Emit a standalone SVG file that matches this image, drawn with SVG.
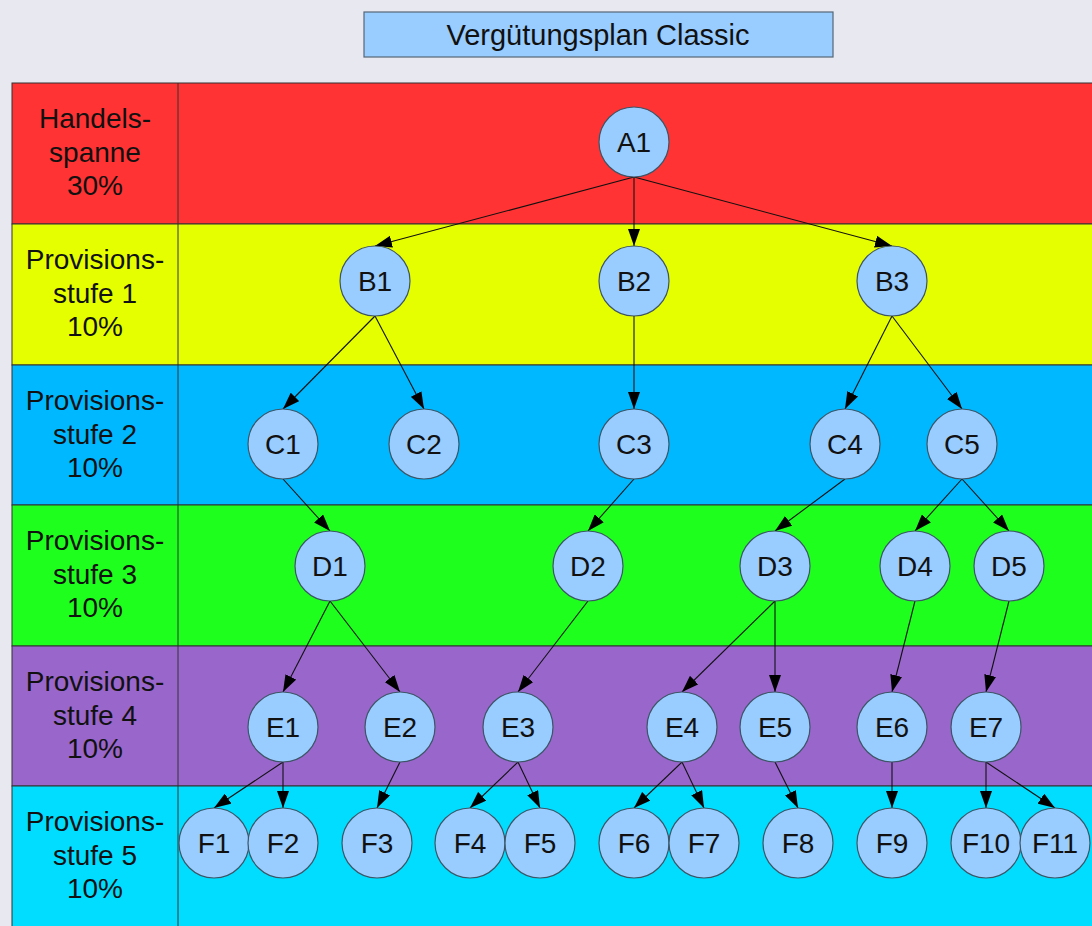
<svg xmlns="http://www.w3.org/2000/svg" width="1092" height="926" viewBox="0 0 1092 926">
<style>
.band{stroke:#333;stroke-width:1}
.lbl{font-family:"Liberation Sans",Arial,sans-serif;font-size:28px;fill:#111;text-anchor:middle}
.node circle{fill:#99ccff;stroke:#3d5566;stroke-width:1.2}
.node text{font-family:"Liberation Sans",Arial,sans-serif;font-size:28px;fill:#111;text-anchor:middle}
#connectors line{stroke:#111;stroke-width:1.1;marker-end:url(#arr)}
</style>
<defs>
<marker id="arr" viewBox="0 0 17 12" refX="17" refY="6" markerWidth="17" markerHeight="12" markerUnits="userSpaceOnUse" orient="auto">
<path d="M0,0 L17,6 L0,12 z" fill="#000"/>
</marker>
</defs>
<rect x="0" y="0" width="1092" height="926" fill="#e8e8f0"/>
<g id="title">
<rect x="364" y="12" width="469" height="45" fill="#99ccff" stroke="#556677" stroke-width="1.2"/>
<text x="598" y="45" font-family="'Liberation Sans',Arial,sans-serif" font-size="29" text-anchor="middle" fill="#111">Vergütungsplan Classic</text>
</g>
<g id="bands">
<rect class="band" x="12" y="83" width="1090" height="141" fill="#ff3333"/>
<rect class="band" x="12" y="224" width="1090" height="141" fill="#e6ff00"/>
<rect class="band" x="12" y="365" width="1090" height="140" fill="#00b8ff"/>
<rect class="band" x="12" y="505" width="1090" height="141" fill="#1eff1e"/>
<rect class="band" x="12" y="646" width="1090" height="140" fill="#9966cc"/>
<rect class="band" x="12" y="786" width="1090" height="150" fill="#00ddff"/>
<line x1="178" y1="83" x2="178" y2="926" stroke="#333" stroke-width="1"/>
<text class="lbl"><tspan x="95" y="128">Handels-</tspan><tspan x="95" y="162">spanne</tspan><tspan x="95" y="195">30%</tspan></text>
<text class="lbl"><tspan x="95" y="269">Provisions-</tspan><tspan x="95" y="303">stufe 1</tspan><tspan x="95" y="336">10%</tspan></text>
<text class="lbl"><tspan x="95" y="410">Provisions-</tspan><tspan x="95" y="444">stufe 2</tspan><tspan x="95" y="477">10%</tspan></text>
<text class="lbl"><tspan x="95" y="550">Provisions-</tspan><tspan x="95" y="584">stufe 3</tspan><tspan x="95" y="617">10%</tspan></text>
<text class="lbl"><tspan x="95" y="691">Provisions-</tspan><tspan x="95" y="725">stufe 4</tspan><tspan x="95" y="758">10%</tspan></text>
<text class="lbl"><tspan x="95" y="831">Provisions-</tspan><tspan x="95" y="865">stufe 5</tspan><tspan x="95" y="898">10%</tspan></text>
</g>
<g id="connectors">
<line x1="634" y1="177" x2="375" y2="246"/>
<line x1="634" y1="177" x2="634" y2="246"/>
<line x1="634" y1="177" x2="892" y2="246"/>
<line x1="375" y1="316" x2="283" y2="409"/>
<line x1="375" y1="316" x2="424" y2="409"/>
<line x1="634" y1="316" x2="634" y2="409"/>
<line x1="892" y1="316" x2="845" y2="409"/>
<line x1="892" y1="316" x2="962" y2="409"/>
<line x1="283" y1="479" x2="330" y2="531"/>
<line x1="634" y1="479" x2="588" y2="531"/>
<line x1="845" y1="479" x2="775" y2="531"/>
<line x1="962" y1="479" x2="915" y2="531"/>
<line x1="962" y1="479" x2="1009" y2="531"/>
<line x1="330" y1="601" x2="283" y2="692"/>
<line x1="330" y1="601" x2="400" y2="692"/>
<line x1="588" y1="601" x2="518" y2="692"/>
<line x1="775" y1="601" x2="682" y2="692"/>
<line x1="775" y1="601" x2="775" y2="692"/>
<line x1="915" y1="601" x2="892" y2="692"/>
<line x1="1009" y1="601" x2="986" y2="692"/>
<line x1="283" y1="762" x2="214" y2="808"/>
<line x1="283" y1="762" x2="283" y2="808"/>
<line x1="400" y1="762" x2="377" y2="808"/>
<line x1="518" y1="762" x2="470" y2="808"/>
<line x1="518" y1="762" x2="540" y2="808"/>
<line x1="682" y1="762" x2="634" y2="808"/>
<line x1="682" y1="762" x2="704" y2="808"/>
<line x1="775" y1="762" x2="798" y2="808"/>
<line x1="892" y1="762" x2="892" y2="808"/>
<line x1="986" y1="762" x2="986" y2="808"/>
<line x1="986" y1="762" x2="1055" y2="808"/>
</g>
<g id="A1" class="node"><circle cx="634" cy="142" r="35"/><text x="634" y="152">A1</text></g>
<g id="B1" class="node"><circle cx="375" cy="281" r="35"/><text x="375" y="291">B1</text></g>
<g id="B2" class="node"><circle cx="634" cy="281" r="35"/><text x="634" y="291">B2</text></g>
<g id="B3" class="node"><circle cx="892" cy="281" r="35"/><text x="892" y="291">B3</text></g>
<g id="C1" class="node"><circle cx="283" cy="444" r="35"/><text x="283" y="454">C1</text></g>
<g id="C2" class="node"><circle cx="424" cy="444" r="35"/><text x="424" y="454">C2</text></g>
<g id="C3" class="node"><circle cx="634" cy="444" r="35"/><text x="634" y="454">C3</text></g>
<g id="C4" class="node"><circle cx="845" cy="444" r="35"/><text x="845" y="454">C4</text></g>
<g id="C5" class="node"><circle cx="962" cy="444" r="35"/><text x="962" y="454">C5</text></g>
<g id="D1" class="node"><circle cx="330" cy="566" r="35"/><text x="330" y="576">D1</text></g>
<g id="D2" class="node"><circle cx="588" cy="566" r="35"/><text x="588" y="576">D2</text></g>
<g id="D3" class="node"><circle cx="775" cy="566" r="35"/><text x="775" y="576">D3</text></g>
<g id="D4" class="node"><circle cx="915" cy="566" r="35"/><text x="915" y="576">D4</text></g>
<g id="D5" class="node"><circle cx="1009" cy="566" r="35"/><text x="1009" y="576">D5</text></g>
<g id="E1" class="node"><circle cx="283" cy="727" r="35"/><text x="283" y="737">E1</text></g>
<g id="E2" class="node"><circle cx="400" cy="727" r="35"/><text x="400" y="737">E2</text></g>
<g id="E3" class="node"><circle cx="518" cy="727" r="35"/><text x="518" y="737">E3</text></g>
<g id="E4" class="node"><circle cx="682" cy="727" r="35"/><text x="682" y="737">E4</text></g>
<g id="E5" class="node"><circle cx="775" cy="727" r="35"/><text x="775" y="737">E5</text></g>
<g id="E6" class="node"><circle cx="892" cy="727" r="35"/><text x="892" y="737">E6</text></g>
<g id="E7" class="node"><circle cx="986" cy="727" r="35"/><text x="986" y="737">E7</text></g>
<g id="F1" class="node"><circle cx="214" cy="843" r="35"/><text x="214" y="853">F1</text></g>
<g id="F2" class="node"><circle cx="283" cy="843" r="35"/><text x="283" y="853">F2</text></g>
<g id="F3" class="node"><circle cx="377" cy="843" r="35"/><text x="377" y="853">F3</text></g>
<g id="F4" class="node"><circle cx="470" cy="843" r="35"/><text x="470" y="853">F4</text></g>
<g id="F5" class="node"><circle cx="540" cy="843" r="35"/><text x="540" y="853">F5</text></g>
<g id="F6" class="node"><circle cx="634" cy="843" r="35"/><text x="634" y="853">F6</text></g>
<g id="F7" class="node"><circle cx="704" cy="843" r="35"/><text x="704" y="853">F7</text></g>
<g id="F8" class="node"><circle cx="798" cy="843" r="35"/><text x="798" y="853">F8</text></g>
<g id="F9" class="node"><circle cx="892" cy="843" r="35"/><text x="892" y="853">F9</text></g>
<g id="F10" class="node"><circle cx="986" cy="843" r="35"/><text x="986" y="853">F10</text></g>
<g id="F11" class="node"><circle cx="1055" cy="843" r="35"/><text x="1055" y="853">F11</text></g>
</svg>
